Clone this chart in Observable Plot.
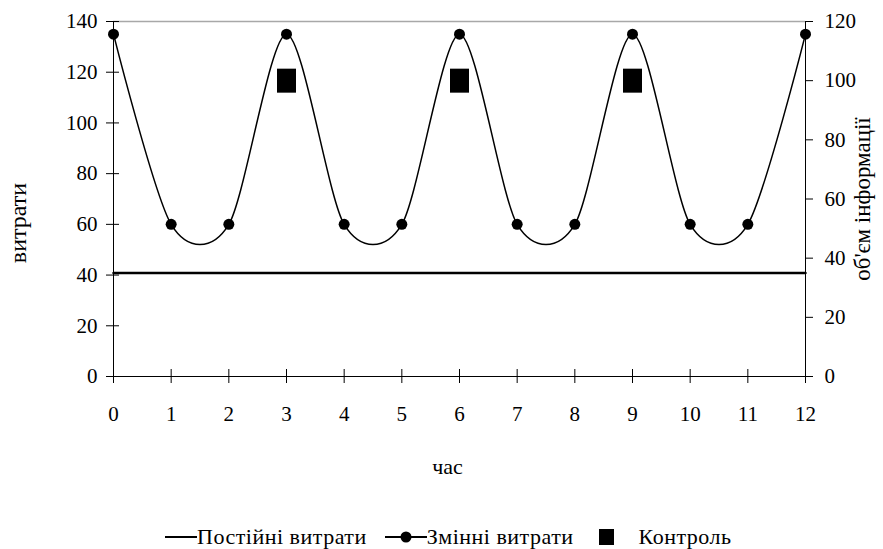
<!DOCTYPE html>
<html>
<head>
<meta charset="utf-8">
<script src="https://cdn.jsdelivr.net/npm/d3@7"></script>
<script src="https://cdn.jsdelivr.net/npm/@observablehq/plot@0.6"></script>
<style>
  html, body { margin: 0; padding: 0; background: #fff; font-family: "Liberation Serif", "DejaVu Serif", "Times New Roman", serif; }
  #chart { width: 883px; height: 549px; position: relative; overflow: hidden; }
  #chart svg text, #chart svg { font-family: "Liberation Serif", "DejaVu Serif", "Times New Roman", serif !important; }
  #legend { position: absolute; left: 165px; top: 522px; height: 29px; display: flex; align-items: center; font-size: 22px; letter-spacing: 0.5px; color: #000; white-space: nowrap; font-family: "Liberation Serif", "DejaVu Serif", "Times New Roman", serif; }
  #legend .item { display: flex; align-items: center; }
  #legend svg { display: block; }
</style>
</head>
<body>
<div id="chart"></div>
<script>
// ---- data ----
const hours = [0, 1, 2, 3, 4, 5, 6, 7, 8, 9, 10, 11, 12];
const variableCosts = [135, 60, 60, 135, 60, 60, 135, 60, 60, 135, 60, 60, 135]; // left axis
const constantCost = 35;            // right axis scale
const controlHours = [3, 6, 9];
const controlValues = [100, 100, 100]; // right axis scale
const leftTicks = [0, 20, 40, 60, 80, 100, 120, 140];
const rightTicks = [0, 20, 40, 60, 80, 100, 120];
const leftMax = 140, rightMax = 120;
const seriesNames = ["Постійні витрати", "Змінні витрати", "Контроль"];

const toLeft = v => v * leftMax / rightMax;

const varData = hours.map((h, i) => ({x: h, y: variableCosts[i]}));
const constData = [{x: hours[0], y: toLeft(constantCost)}, {x: hours[hours.length - 1], y: toLeft(constantCost)}];
const ctrlData = controlHours.map((h, i) => ({x: h, y: toLeft(controlValues[i])}));

const rectSymbol = {
  draw(context) { context.rect(-9.5, -12, 19, 24); }
};

const plot = Plot.plot({
  width: 883,
  height: 500,
  marginLeft: 113,
  marginRight: 78,
  marginTop: 21,
  marginBottom: 124,
  style: {fontFamily: "'Liberation Serif', 'DejaVu Serif', serif", fontSize: "21px", color: "#000", background: "#fff"},
  x: {domain: [0, 12]},
  y: {domain: [0, leftMax]},
  marks: [
    Plot.ruleY([leftMax], {stroke: "#a8a8a8", strokeWidth: 1.5}),
    Plot.ruleX([0], {stroke: "#000", strokeWidth: 1}),
    Plot.ruleX([12], {stroke: "#000", strokeWidth: 1}),
    Plot.ruleY([0], {stroke: "#000", strokeWidth: 1}),
    // left axis: labels + crossing ticks
    Plot.axisY({anchor: "left", ticks: leftTicks, tickSize: 0, tickPadding: 16, label: null}),
    Plot.axisY({anchor: "left", ticks: leftTicks, tickSize: 13, dx: 6, tickFormat: () => "", label: null}),
    // right axis
    Plot.axisY({anchor: "right", ticks: rightTicks.map(toLeft), tickSize: 7, tickPadding: 12,
      tickFormat: v => String(Math.round(v * rightMax / leftMax)), label: null}),
    // bottom axis
    Plot.axisX({anchor: "bottom", ticks: hours, tickSize: 0, tickPadding: 30, label: null}),
    Plot.axisX({anchor: "bottom", ticks: hours, tickSize: 14, dy: -7, tickFormat: () => "", label: null}),
    // series
    Plot.line(constData, {x: "x", y: "y", stroke: "#000", strokeWidth: 2.5}),
    Plot.line(varData, {x: "x", y: "y", stroke: "#000", strokeWidth: 1.5, curve: "cardinal", tension: 0.15}),
    Plot.dot(varData, {x: "x", y: "y", r: 5.5, fill: "#000", stroke: "none"}),
    Plot.dot(ctrlData, {x: "x", y: "y", symbol: rectSymbol, fill: "#000", stroke: "none"}),
    // titles
    Plot.text(["час"], {frameAnchor: "bottom", dx: -12, dy: 90, fill: "#000", lineAnchor: "middle", textAnchor: "middle", fontSize: 22}),
    Plot.text(["витрати"], {frameAnchor: "left", dx: -95, dy: 24, rotate: -90, fill: "#000", lineAnchor: "middle", textAnchor: "middle", fontSize: 24}),
    Plot.text(["об'єм інформації"], {frameAnchor: "right", dx: 57, dy: 0, rotate: -90, fill: "#000", lineAnchor: "middle", textAnchor: "middle", fontSize: 23})
  ]
});

const chart = document.getElementById("chart");
chart.appendChild(plot);

const legend = document.createElement("div");
legend.id = "legend";
legend.innerHTML = `
  <div class="item"><svg width="32" height="20"><line x1="0" x2="32" y1="10" y2="10" stroke="#000" stroke-width="2"/></svg><span>${seriesNames[0]}</span></div>
  <div class="item" style="margin-left:18px"><svg width="42" height="20"><line x1="0" x2="42" y1="10" y2="10" stroke="#000" stroke-width="2"/><circle cx="21" cy="10" r="5.5" fill="#000"/></svg><span>${seriesNames[1]}</span></div>
  <div class="item" style="margin-left:25px"><svg width="15" height="16"><rect x="0" y="0" width="15" height="16" fill="#000"/></svg><span style="margin-left:25px">${seriesNames[2]}</span></div>
`;
chart.appendChild(legend);
</script>
</body>
</html>
